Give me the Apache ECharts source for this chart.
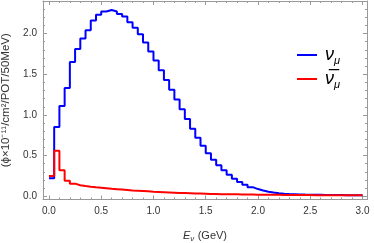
<!DOCTYPE html>
<html>
<head>
<meta charset="utf-8">
<script src="https://cdn.jsdelivr.net/npm/echarts@6/dist/echarts.min.js"></script>
<style>
html,body{margin:0;padding:0;background:#fff;}
#chart{width:374px;height:243px;}
</style>
</head>
<body>
<div id="chart"></div>
<script>
// Bin width 50 MeV, bins from 0 to 3 GeV
const binWidth = 0.05;
const numuFlux = [
  0.22, 0.85, 1.11, 1.33, 1.65, 1.81, 1.94, 2.04, 2.16, 2.23,
  2.27, 2.29, 2.27, 2.24, 2.21, 2.14, 2.07, 1.99, 1.89, 1.78,
  1.67, 1.55, 1.43, 1.31, 1.19, 1.07, 0.95, 0.83, 0.72, 0.62,
  0.53, 0.45, 0.38, 0.32, 0.265, 0.215, 0.175, 0.14, 0.112, 0.088,
  0.07, 0.055, 0.045, 0.038, 0.032, 0.028, 0.025, 0.022, 0.02, 0.019,
  0.018, 0.017, 0.016, 0.015, 0.015, 0.014, 0.013, 0.013, 0.012, 0.012
];
const numubarFlux = [
  0.25, 0.56, 0.32, 0.19, 0.155, 0.135, 0.125, 0.117, 0.11, 0.104,
  0.098, 0.092, 0.087, 0.082, 0.077, 0.072, 0.068, 0.064, 0.06, 0.056,
  0.053, 0.05, 0.047, 0.044, 0.041, 0.039, 0.037, 0.035, 0.033, 0.031,
  0.029, 0.028, 0.026, 0.025, 0.024, 0.023, 0.022, 0.021, 0.02, 0.019,
  0.018, 0.018, 0.017, 0.017, 0.016, 0.016, 0.015, 0.015, 0.014, 0.014,
  0.013, 0.013, 0.013, 0.012, 0.012, 0.012, 0.011, 0.011, 0.011, 0.011
];
const xMajorTicks = [0, 0.5, 1, 1.5, 2, 2.5, 3];
const xMinorTicks = [0.1,0.2,0.3,0.4,0.6,0.7,0.8,0.9,1.1,1.2,1.3,1.4,1.6,1.7,1.8,1.9,2.1,2.2,2.3,2.4,2.6,2.7,2.8,2.9];
const yMajorTicks = [0, 0.5, 1, 1.5, 2];
const yMinorTicks = [0.1,0.2,0.3,0.4,0.6,0.7,0.8,0.9,1.1,1.2,1.3,1.4,1.6,1.7,1.8,1.9,2.1,2.2,2.3];
const seriesNames = ['numu', 'numubar'];

function toSteps(vals) {
  const pts = vals.map((v, i) => [+(i * binWidth).toFixed(3), v]);
  pts.push([+(vals.length * binWidth).toFixed(3), vals[vals.length - 1]]);
  return pts;
}

const frameColor = '#999';
const labelColor = '#333';
const xMin = -0.057, xMax = 3.043;
const yMin = -0.04, yMax = 2.40;

function xAx(pos, ticks, len, labels, line) {
  return {
    type: 'value', position: pos, min: xMin, max: xMax,
    axisLine: { show: line, onZero: false, lineStyle: { color: frameColor, width: 1 } },
    axisTick: { show: true, inside: true, length: len, customValues: ticks, lineStyle: { color: frameColor } },
    axisLabel: labels ? { show: true, customValues: ticks, formatter: v => v.toFixed(1), color: labelColor, fontSize: 10, fontFamily: 'Liberation Sans', margin: 7 } : { show: false },
    splitLine: { show: false }
  };
}
function yAx(pos, ticks, len, labels, line) {
  return {
    type: 'value', position: pos, min: yMin, max: yMax,
    axisLine: { show: line, onZero: false, lineStyle: { color: frameColor, width: 1 } },
    axisTick: { show: true, inside: true, length: len, customValues: ticks, lineStyle: { color: frameColor } },
    axisLabel: labels ? { show: true, customValues: ticks, formatter: v => v.toFixed(1), color: labelColor, fontSize: 10, fontFamily: 'Liberation Sans', margin: 6 } : { show: false },
    splitLine: { show: false }
  };
}

const xAxes = [
  xAx('bottom', xMajorTicks, 4, true, true),
  xAx('bottom', xMinorTicks, 2, false, false),
  xAx('top', xMajorTicks, 4, false, true),
  xAx('top', xMinorTicks, 2, false, false)
];
xAxes[0].name = '{e|E}{s|ν} {n|(GeV)}';
xAxes[0].nameLocation = 'middle';
xAxes[0].nameGap = 29;
xAxes[0].nameTextStyle = {
  rich: {
    e: { fontSize: 11, fontStyle: 'italic', fontFamily: 'Liberation Sans', color: labelColor, verticalAlign: 'middle', lineHeight: 14 },
    s: { fontSize: 8, fontStyle: 'italic', fontFamily: 'Liberation Sans', color: labelColor, verticalAlign: 'bottom', lineHeight: 14 },
    n: { fontSize: 11, fontFamily: 'Liberation Sans', color: labelColor, verticalAlign: 'middle', lineHeight: 14 }
  }
};
const yAxes = [
  yAx('left', yMajorTicks, 4, true, true),
  yAx('left', yMinorTicks, 2, false, false),
  yAx('right', yMajorTicks, 4, false, true),
  yAx('right', yMinorTicks, 2, false, false)
];
yAxes[0].name = '(ϕ×10⁻¹¹/cm²/POT/50MeV)';
yAxes[0].nameLocation = 'middle';
yAxes[0].nameGap = 27;
yAxes[0].nameTextStyle = { fontSize: 11.5, fontFamily: 'Liberation Sans', color: labelColor };

const chart = echarts.init(document.getElementById('chart'), null, { renderer: 'canvas' });
chart.setOption({
  animation: false,
  backgroundColor: '#fff',
  grid: { left: 43, right: 7, top: 1, bottom: 43.5, containLabel: false, outerBoundsMode: 'none' },
  xAxis: xAxes,
  yAxis: yAxes,
  legend: {
    orient: 'vertical', left: 292, top: 41,
    itemWidth: 20, itemHeight: 2, itemGap: 4,
    icon: 'rect',
    data: seriesNames,
    formatter: function (name) {
      return name === 'numu' ? '{p|}{v|ν}{s|μ}' : '{p|}{v|ν̅}{s|μ}';
    },
    textStyle: {
      rich: {
        p: { width: 3 },
        v: { fontSize: 18, fontStyle: 'italic', fontFamily: 'Liberation Sans', color: '#000', lineHeight: 22, verticalAlign: 'middle' },
        s: { fontSize: 11, fontStyle: 'italic', fontFamily: 'Liberation Sans', color: '#000', lineHeight: 22, verticalAlign: 'bottom' }
      }
    }
  },
  series: [
    { name: 'numu', type: 'line', step: 'end', symbol: 'none', data: toSteps(numuFlux),
      color: '#0000ff', lineStyle: { color: '#0000ff', width: 2 }, xAxisIndex: 0, yAxisIndex: 0 },
    { name: 'numubar', type: 'line', step: 'end', symbol: 'none', data: toSteps(numubarFlux),
      color: '#ff0000', lineStyle: { color: '#ff0000', width: 2 }, xAxisIndex: 0, yAxisIndex: 0 }
  ]
});
</script>
</body>
</html>
